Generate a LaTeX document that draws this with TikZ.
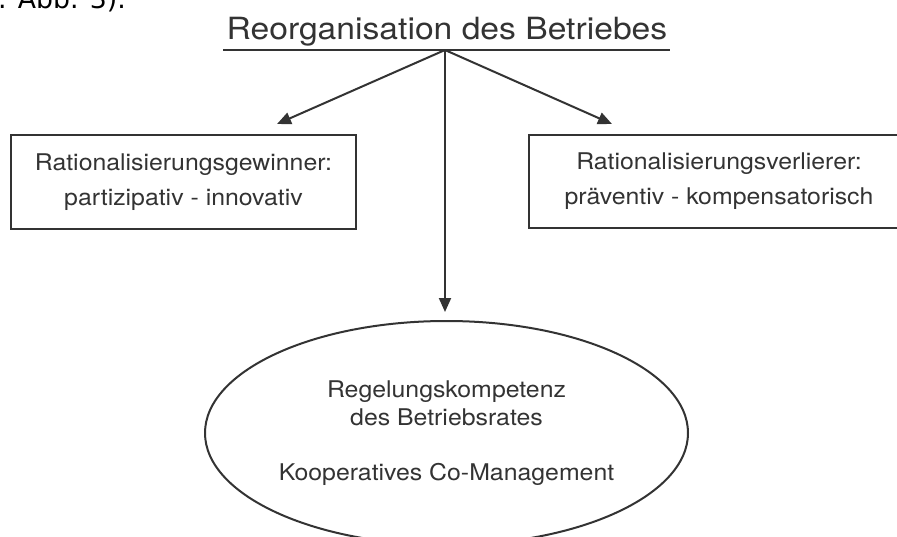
\documentclass[tikz,border=0pt]{standalone}
\usepackage{fontspec}
\setmainfont{TeX Gyre Heros}
\newfontfamily\titlef[FakeStretch=1.1]{TeX Gyre Heros}
\newfontfamily\bodyf[FakeStretch=1.08]{TeX Gyre Heros}
\newfontfamily\pagef{DejaVu Sans}
\usetikzlibrary{arrows.meta,shapes.geometric}
\definecolor{ink}{HTML}{333333}
\tikzset{
  conn/.style={draw=ink, line width=2pt, -{Triangle[length=14pt,width=12pt]}},
  boxnode/.style={draw=ink, line width=2pt, inner sep=0pt, align=center,
    text=ink, font=\bodyf\fontsize{23}{35}\selectfont},
  ellnode/.style={ellipse, draw=ink, line width=2pt, inner sep=0pt, align=center,
    text=ink, font=\bodyf\fontsize{23}{28.5}\selectfont},
  titlenode/.style={text=ink, inner sep=0pt, font=\titlef\fontsize{30.6}{36}\selectfont},
}
\begin{document}
\begin{tikzpicture}[x=1pt,y=-1pt]
\useasboundingbox (0,0) rectangle (897,536);
\clip (0,0) rectangle (897,536);
\fill[white] (0,0) rectangle (897,536);

\node[anchor=base west, inner sep=0pt, text=black, font=\pagef\fontsize{26.7}{30}\selectfont] (pagetext) at (-2,8) {. Abb. 3).};

\node[titlenode, anchor=base] (title) at (447,39.3) {Reorganisation des Betriebes};
\draw[ink, line width=2pt] (223,50) coordinate (ul) -- (670,50) coordinate (ur);
\coordinate (j) at (445,50);

\node[boxnode, minimum width=345pt, minimum height=94pt] (lbox) at (183.5,182)
  {Rationalisierungsgewinner:\\partizipativ - innovativ};
\node[boxnode, minimum width=380pt, minimum height=93pt] (rbox) at (719,181.5)
  {Rationalisierungsverlierer:\\präventiv - kompensatorisch};
\node[ellnode, minimum width=483pt, minimum height=224pt] (ell) at (446.5,433)
  {Regelungskompetenz\\des Betriebsrates\\[26.5pt]Kooperatives Co-Management};

\draw[conn] (j) -- ([xshift=93.5pt,yshift=10pt]lbox.north);
\draw[conn] (j) -- ([xshift=-107pt,yshift=10pt]rbox.north);
\draw[conn, shorten >=8pt] (j) -- (j |- ell.north);
\end{tikzpicture}
\end{document}
